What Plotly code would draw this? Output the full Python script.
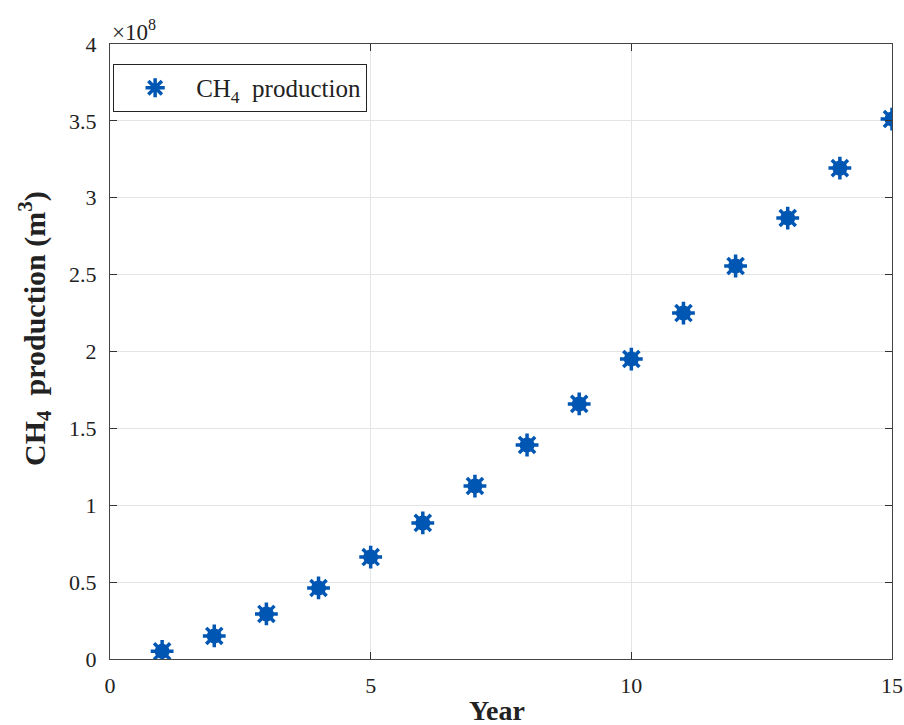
import plotly.graph_objects as go

years = [1, 2, 3, 4, 5, 6, 7, 8, 9, 10, 11, 12, 13, 14, 15]
ch4_production = [0.05e8, 0.15e8, 0.293e8, 0.462e8, 0.663e8, 0.885e8, 1.125e8, 1.392e8,
                  1.659e8, 1.951e8, 2.25e8, 2.556e8, 2.868e8, 3.193e8, 3.512e8]
y_tickvals = [0, 0.5e8, 1e8, 1.5e8, 2e8, 2.5e8, 3e8, 3.5e8, 4e8]
y_ticktext = ["0", "0.5", "1", "1.5", "2", "2.5", "3", "3.5", "4"]
x_tickvals = [0, 5, 10, 15]

color = "#0056B3"
font = "Liberation Serif, Times New Roman, serif"
txt = "#222222"

fig = go.Figure()
fig.add_trace(go.Scatter(x=years, y=ch4_production, mode="markers",
                         marker=dict(symbol="circle", size=15, color=color, line=dict(width=0)),
                         showlegend=False, hoverinfo="skip"))
fig.add_trace(go.Scatter(x=years, y=ch4_production, mode="markers",
                         name="CH<sub>4</sub>  production",
                         marker=dict(symbol="asterisk-open", size=19, color=color,
                                     line=dict(width=3.5, color=color))))

axis_common = dict(showline=True, linecolor="#444444", linewidth=1, mirror="allticks",
                   ticks="inside", ticklen=7, tickcolor="#333333",
                   showgrid=True, gridcolor="#e4e4e4", gridwidth=1, zeroline=False,
                   automargin=False,
                   tickfont=dict(family=font, size=22, color=txt))

fig.update_xaxes(range=[0, 15], tickvals=x_tickvals, ticklabelstandoff=7,
                 ticklabeloverflow="allow", **axis_common)
fig.update_yaxes(range=[0, 4e8], tickvals=y_tickvals, ticktext=y_ticktext,
                 ticklabelstandoff=8, **axis_common)

fig.add_annotation(text="×10<sup>8</sup>", xref="paper", yref="paper", x=0, y=1,
                   xanchor="left", yanchor="bottom", showarrow=False,
                   font=dict(family=font, size=23, color=txt), yshift=-3)
fig.add_annotation(text="<b>Year</b>", xref="paper", yref="paper", x=0.495, y=0,
                   xanchor="center", yanchor="middle", yshift=-51, showarrow=False,
                   font=dict(family=font, size=28, color=txt))
fig.add_annotation(text="<b>CH<sub>4</sub>  production (m<sup>3</sup>)</b>", xref="paper", yref="paper",
                   x=0, y=0.5366, xshift=-75, xanchor="center", yanchor="middle",
                   textangle=-90, showarrow=False,
                   font=dict(family=font, size=30, color=txt))

fig.update_layout(
    width=904, height=725,
    margin=dict(l=110, r=12, t=44, b=66, autoexpand=False),
    paper_bgcolor="white", plot_bgcolor="white",
    legend=dict(x=0.004, y=0.9675, xanchor="left", yanchor="top",
                bordercolor="#222222", borderwidth=1, bgcolor="white",
                font=dict(family=font, size=25, color=txt),
                itemwidth=72),
)

fig.write_html("out.html", config={"displayModeBar": False},
               post_script="document.body.style.margin='0';document.body.style.overflow='hidden';")
